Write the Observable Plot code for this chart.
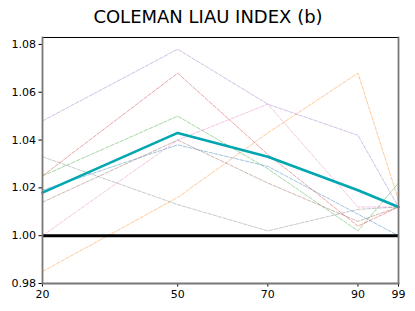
<!DOCTYPE html>
<html><head><meta charset="utf-8">
<script src="https://cdn.jsdelivr.net/npm/d3@7"></script>
<script src="https://cdn.jsdelivr.net/npm/@observablehq/plot@0.6"></script>
<style>html,body{margin:0;padding:0;background:#fff;}</style>
</head><body><div id="chart"></div>
<script>
const title = "COLEMAN LIAU INDEX (b)";
const xTicks = [20, 50, 70, 90, 99];
const yTicks = [0.98, 1.00, 1.02, 1.04, 1.06, 1.08];
const seriesNames = ["blue", "orange", "green", "red", "purple", "brown", "pink", "gray"];
const seriesColors = ["#1f77b4", "#ff7f0e", "#2ca02c", "#d62728", "#9467bd", "#8c564b", "#e377c2", "#7f7f7f"];
const blue   = [1.019, 1.038, 1.029, 1.009, 1.000];
const orange = [0.985, 1.016, 1.043, 1.068, 1.015];
const green  = [1.025, 1.050, 1.028, 1.002, 1.022];
const red    = [1.025, 1.068, 1.034, 1.004, 1.012];
const purple = [1.048, 1.078, 1.055, 1.042, 1.012];
const brown  = [1.014, 1.040, 1.022, 1.006, 1.012];
const pink   = [1.000, 1.040, 1.055, 1.012, 1.012];
const gray   = [1.033, 1.013, 1.002, 1.011, 1.012];
const mean   = [1.018, 1.043, 1.033, 1.019, 1.012];
const baseline = 1.00;

const seriesValues = [blue, orange, green, red, purple, brown, pink, gray];
const meanRows = mean.map((v, j) => ({x: xTicks[j], y: v}));
const seriesMarks = seriesValues.map((vals, i) =>
  Plot.line(vals.map((v, j) => ({x: xTicks[j], y: v})), {
    x: "x", y: "y", stroke: seriesColors[i], strokeWidth: 1, strokeOpacity: 0.42, strokeDasharray: "3.7,1.6"
  }));

const plot = Plot.plot({
  width: 415, height: 311,
  marginLeft: 42, marginRight: 17, marginTop: 37, marginBottom: 28,
  style: {fontFamily: "DejaVu Sans", fontSize: "11px", color: "#000", background: "#fff"},
  x: {domain: [20, 99], ticks: xTicks, tickFormat: d => String(d), tickSize: 3.5, tickPadding: 3, label: null},
  y: {domain: [0.98, 1.0829], ticks: yTicks, tickFormat: d3.format(".2f"), tickSize: 3.5, tickPadding: 3, label: null},
  marks: [
    ...seriesMarks,
    Plot.ruleY([baseline], {stroke: "#000", strokeWidth: 3}),
    Plot.line(meanRows, {x: "x", y: "y", stroke: "#00a6b0", strokeWidth: 2.6}),
    Plot.frame({anchor: "top", stroke: "#000", strokeWidth: 1}),
    Plot.frame({anchor: "right", stroke: "#777", strokeWidth: 1.8}),
    Plot.frame({anchor: "left", stroke: "#777", strokeWidth: 1.8}),
    Plot.frame({anchor: "bottom", stroke: "#777", strokeWidth: 1.8}),
    Plot.text([title], {frameAnchor: "top", dy: -27, dx: -12.5, fontSize: 18, fill: "#000", text: d => d})
  ]
});
document.getElementById("chart").appendChild(plot);
</script>
</body></html>
